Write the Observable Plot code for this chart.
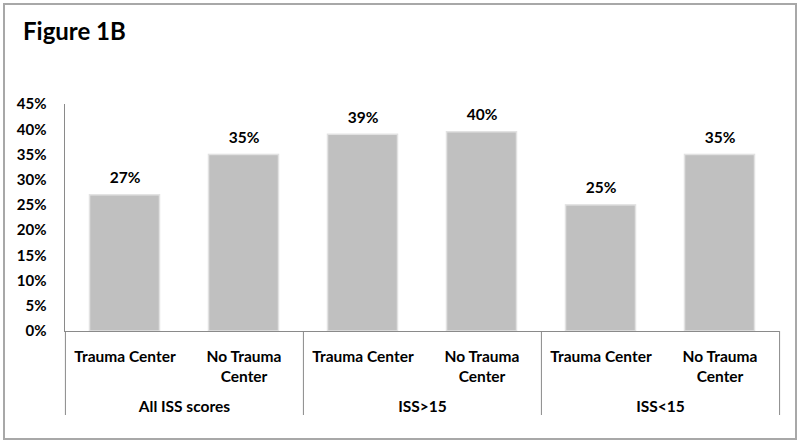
<!DOCTYPE html>
<html>
<head>
<meta charset="utf-8">
<script src="https://cdn.jsdelivr.net/npm/d3@7"></script>
<script src="https://cdn.jsdelivr.net/npm/@observablehq/plot@0.6"></script>
<style>
  html, body { margin: 0; padding: 0; background: #fff; }
  #wrap { position: relative; width: 800px; height: 444px; overflow: hidden; font-family: Lato, "Open Sans", sans-serif; }
  #border { position: absolute; left: 3px; top: 3px; width: 794px; height: 437px; box-sizing: border-box; border: 2px solid #a8a8a8; pointer-events: none; }
  #title { position: absolute; left: 23px; top: 19px; font-size: 24px; line-height: 24px; font-weight: 700; color: #000; }
  #chart { position: absolute; left: 0; top: 0; }
</style>
</head>
<body>
<div id="wrap">
  <div id="chart"></div>
  <div id="border"></div>
  <div id="title">Figure 1B</div>
</div>
<script>
const groups = ["All ISS scores", "ISS>15", "ISS<15"];
const categories = ["Trauma Center", "No Trauma Center"];
const categoryLabels = ["Trauma Center", "No Trauma\nCenter"];
const values = [0.27, 0.35, 0.39, 0.395, 0.25, 0.35];
const valueLabels = ["27%", "35%", "39%", "40%", "25%", "35%"];
const yTicks = [0, 0.05, 0.10, 0.15, 0.20, 0.25, 0.30, 0.35, 0.40, 0.45];

const data = groups.flatMap((g, gi) => categories.map((c, ci) => ({
  key: g + "|" + c,
  group: g,
  cat: c,
  label: categoryLabels[ci],
  value: values[gi * categories.length + ci],
  valueLabel: valueLabels[gi * categories.length + ci],
  first: ci === 0,
  last: ci === categories.length - 1,
  lastGroup: gi === groups.length - 1
})));

const W = 800, H = 444, ML = 64, MR = 21, MT = 104, MB = 113;
const bw = (W - ML - MR) / data.length;
const pct = d => Math.round(d * 100) + "%";
const axisColor = "#8a8a8a";
const txt = {fontWeight: "bold", fontSize: 15.5, fill: "#000"};

const chart = Plot.plot({
  width: W, height: H,
  marginLeft: ML, marginRight: MR, marginTop: MT, marginBottom: MB,
  style: {fontFamily: "Lato, 'Open Sans', sans-serif", background: "transparent", color: "#000"},
  x: {domain: data.map(d => d.key), padding: 0, axis: null},
  y: {domain: [0, 0.45]},
  marks: [
    Plot.barY(data, {x: "key", y: "value", fill: "#c0c0c0", stroke: "#e2e2e2", strokeWidth: 1.5, insetLeft: 24.5, insetRight: 24.5}),
    Plot.axisY({ticks: yTicks, tickFormat: pct, tickSize: 0, tickPadding: 18, fontWeight: "bold", fontSize: 15, label: null}),
    Plot.frame({anchor: "left", stroke: axisColor}),
    Plot.ruleY([0], {stroke: axisColor}),
    Plot.ruleX(data.filter(d => d.first), {x: "key", dx: -bw / 2, insetTop: H - MT - MB, insetBottom: -84, stroke: axisColor}),
    Plot.ruleX(data.filter(d => d.last && d.lastGroup), {x: "key", dx: bw / 2, insetTop: H - MT - MB, insetBottom: -84, stroke: axisColor}),
    Plot.text(data, {x: "key", y: "value", text: "valueLabel", dy: -17, ...txt}),
    Plot.text(data, {x: "key", y: 0, text: "label", lineAnchor: "top", lineHeight: 1.3, dy: 16.5, ...txt}),
    Plot.text(data.filter(d => d.last), {x: "key", y: 0, text: "group", dx: -bw / 2, lineAnchor: "top", dy: 69, ...txt})
  ]
});
document.getElementById("chart").appendChild(chart);
</script>
</body>
</html>
